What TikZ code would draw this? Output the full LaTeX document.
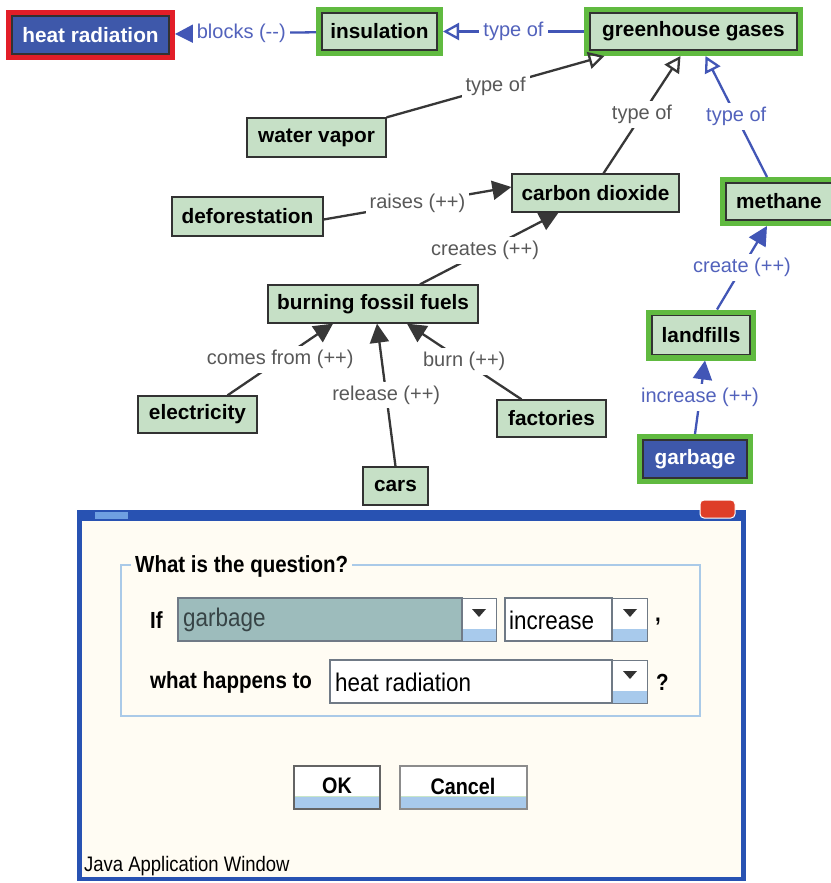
\documentclass[tikz,border=0pt]{standalone}
\usepackage{fontspec}
\setmainfont{Liberation Sans}
\newfontfamily\dlgfont[FakeStretch=0.88]{Liberation Sans}
\usetikzlibrary{arrows.meta}
\definecolor{nfill}{RGB}{198,224,198}
\definecolor{ndraw}{RGB}{50,50,50}
\definecolor{hgreen}{RGB}{96,186,64}
\definecolor{hred}{RGB}{226,30,40}
\definecolor{nblue}{RGB}{62,88,170}
\definecolor{eblue}{RGB}{66,86,182}
\definecolor{blabc}{RGB}{82,98,188}
\definecolor{egray}{RGB}{55,55,55}
\definecolor{glabc}{RGB}{88,88,88}
\definecolor{winblue}{RGB}{40,82,178}
\definecolor{iconblue}{RGB}{110,160,225}
\definecolor{cream}{RGB}{255,252,243}
\definecolor{gboxc}{RGB}{170,202,232}
\definecolor{combot}{RGB}{157,188,188}
\definecolor{combob}{RGB}{112,122,134}
\definecolor{combotxt}{RGB}{55,68,70}
\definecolor{btnblue}{RGB}{168,202,236}
\definecolor{btnline}{RGB}{200,230,200}
\definecolor{okborder}{RGB}{100,100,100}
\definecolor{cancelborder}{RGB}{140,140,140}
\definecolor{closered}{RGB}{222,62,40}
\tikzset{
  cnode/.style={draw=ndraw, line width=1.3pt, fill=nfill, text=black,
    font=\fontsize{20.8}{24}\selectfont\bfseries, inner sep=0pt, anchor=center},
  gframe/.style={cnode, preaction={draw=hgreen, line width=12pt}, outer sep=6pt},
  rframe/.style={cnode, preaction={draw=hred, line width=12pt}, outer sep=6pt},
  bluefill/.style={fill=nblue, text=white},
  darkedge/.style={draw=egray, line width=2.3pt},
  blueedge/.style={draw=eblue, line width=2.3pt},
  ftip/.style={-{Triangle[length=19pt,width=19pt]}},
  otip/.style={-{Triangle[open,length=16pt,width=17pt]}},
  elab/.style={fill=white, inner sep=4pt, text=glabc, font=\fontsize{20}{24}\selectfont},
  blab/.style={elab, text=blabc},
  dlgtxt/.style={inner sep=0pt, font=\dlgfont\fontsize{23.3}{26}\selectfont\bfseries, text=black},
  cmbtxt/.style={inner sep=0pt, font=\dlgfont\fontsize{25.5}{28}\selectfont, text=black},
  arrowbtn/.style={fill=white, draw=combob, line width=1pt},
  dtri/.style={fill=ndraw}
}
\begin{document}
\begin{tikzpicture}[x=1pt,y=-1pt]
\useasboundingbox (0,0) rectangle (830,883);
\fill[white] (0,0) rectangle (830,883);

% ---------- concept nodes ----------
\node[rframe, bluefill, minimum width=157pt, minimum height=38pt] (heat) at (90.5,35) {heat radiation};
\node[gframe, minimum width=115pt, minimum height=37pt] (ins) at (379.5,31.5) {insulation};
\node[gframe, minimum width=207pt, minimum height=37pt] (gg) at (693.5,31.5) {greenhouse gases};
\node[cnode, minimum width=139pt, minimum height=39pt] (wv) at (316.5,137.5) {water vapor};
\node[cnode, minimum width=151pt, minimum height=39pt] (def) at (247.5,216.5) {deforestation};
\node[cnode, minimum width=167pt, minimum height=38pt] (co2) at (595.5,193) {carbon dioxide};
\node[gframe, minimum width=106pt, minimum height=37pt] (meth) at (779,201.5) {methane};
\node[cnode, minimum width=210pt, minimum height=38pt] (bff) at (373,304) {burning fossil fuels};
\node[cnode, minimum width=119pt, minimum height=37pt] (elec) at (197.5,414.5) {electricity};
\node[cnode, minimum width=109pt, minimum height=37pt] (fact) at (551.5,418.5) {factories};
\node[cnode, minimum width=65pt, minimum height=38pt] (cars) at (395.5,486) {cars};
\node[gframe, minimum width=98pt, minimum height=39pt] (lf) at (701,335) {landfills};
\node[gframe, bluefill, minimum width=104pt, minimum height=38pt] (garb) at (695,459) {garbage};

% ---------- connectors ----------
\draw[blueedge, ftip] (ins) -- node[blab, pos=0.53] {blocks (-{}-)} (heat);
\draw[blueedge, otip] (gg) -- node[blab] {type of} (ins);
\draw[darkedge, otip] (wv.north east) -- node[elab] {type of} ([xshift=-89pt]gg.south);
\draw[darkedge, otip] ([xshift=8pt]co2.north) -- node[elab] {type of} ([xshift=-13pt]gg.south);
\draw[blueedge, otip] ([xshift=-12pt]meth.north) -- node[blab] {type of} ([xshift=12pt]gg.south);
\draw[darkedge, ftip] ([yshift=-3pt]def.east) -- node[elab] {raises (++)} ([yshift=6pt]co2.west);
\draw[darkedge, ftip] ([xshift=47pt]bff.north) -- node[elab, pos=0.47] {creates (++)} ([xshift=-37pt]co2.south);
\draw[darkedge, ftip] ([xshift=30pt]elec.north) -- node[elab] {comes from (++)} ([xshift=-40pt]bff.south);
\draw[darkedge, ftip] (cars.north) -- node[elab] {release (++)} ([xshift=4pt]bff.south);
\draw[darkedge, ftip] ([xshift=-30pt]fact.north) -- node[elab] {burn (++)} ([xshift=34pt]bff.south);
\draw[blueedge, ftip] ([xshift=16pt]lf.north) -- node[blab] {create (++)} ([xshift=-12pt]meth.south);
\draw[blueedge, ftip] (garb.north) -- node[blab] {increase (++)} ([xshift=4pt]lf.south);

% ---------- dialog window ----------
\fill[winblue] (77,510) rectangle (746,881);
\fill[cream] (82,521) rectangle (741,877);
\fill[iconblue] (95,512) rectangle (128,519);
\draw[white, line width=1pt, fill=closered, rounded corners=4pt] (700,500) rectangle (735,518);

% group box
\draw[gboxc, line width=1.2pt] (121,565) rectangle (700,716);
\node[dlgtxt, fill=cream, inner xsep=4pt, anchor=west] (qtitle) at (131,566) {What is the question?};

% row 1
\node[dlgtxt, anchor=west] (iflab) at (150,620) {If};
\draw[combob, line width=1.2pt, fill=combot] (178,598) rectangle (462,641);
\node[cmbtxt, text=combotxt, anchor=west] (c1txt) at (183,620) {garbage};
\draw[arrowbtn] (462,598) rectangle (496,641);
\fill[btnblue] (462.5,629) rectangle (495.5,640.5);
\fill[dtri] (472,609) -- (486,609) -- (479,617) -- cycle;

\draw[combob, line width=1.2pt, fill=white] (505,598) rectangle (612,641);
\node[cmbtxt, anchor=west] (c2txt) at (509,620) {increase};
\draw[arrowbtn] (612,598) rectangle (647,641);
\fill[btnblue] (612.5,629) rectangle (646.5,640.5);
\fill[dtri] (623,609) -- (637,609) -- (630,617) -- cycle;
\node[dlgtxt, anchor=west] (comma) at (655,622) {,};

% row 2
\node[dlgtxt, anchor=west] (whatlab) at (150,682) {what happens to};
\draw[combob, line width=1.2pt, fill=white] (330,660) rectangle (612,703);
\node[cmbtxt, anchor=west] (c3txt) at (335,682) {heat radiation};
\draw[arrowbtn] (612,660) rectangle (647,703);
\fill[btnblue] (612.5,691) rectangle (646.5,702.5);
\fill[dtri] (623,671) -- (637,671) -- (630,679) -- cycle;
\node[dlgtxt, anchor=west] (qmark) at (656,682) {?};

% buttons
\draw[okborder, line width=2.6pt, fill=white] (294,766) rectangle (380,809);
\fill[btnblue] (295.3,796) rectangle (378.7,807.7);
\draw[btnline, line width=0.8pt] (295.3,796) -- (378.7,796);
\node[dlgtxt, font=\dlgfont\fontsize{22.5}{26}\selectfont\bfseries] (okb) at (337,786) {OK};

\draw[cancelborder, line width=1.2pt, fill=white] (400,766) rectangle (527,809);
\fill[btnblue] (400.6,796) rectangle (526.4,808.4);
\draw[btnline, line width=0.8pt] (400.6,796) -- (526.4,796);
\node[dlgtxt, font=\dlgfont\fontsize{22.5}{26}\selectfont\bfseries] (cancelb) at (463,786) {Cancel};

\node[cmbtxt, font=\dlgfont\fontsize{21}{24}\selectfont, anchor=west] (javalab) at (84,866) {Java Application Window};
\end{tikzpicture}
\end{document}
